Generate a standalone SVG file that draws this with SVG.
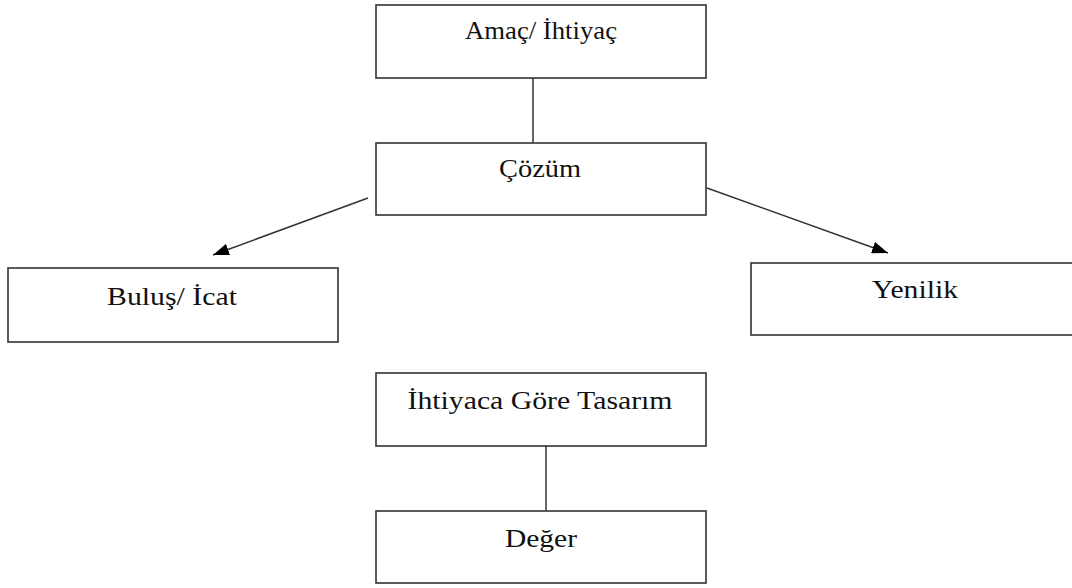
<svg xmlns="http://www.w3.org/2000/svg" width="1072" height="588" viewBox="0 0 1072 588">
  <style>
    .box { fill: #ffffff; stroke: #333333; stroke-width: 1.6; }
    .lbl { font-family: "Liberation Serif", "Times New Roman", serif; font-size: 25px; fill: #111111; text-anchor: middle; }
    .link { stroke: #333333; stroke-width: 1.5; fill: none; }
  </style>
  <defs>
    <marker id="arrow" viewBox="0 0 16 12" refX="16" refY="6" markerWidth="16" markerHeight="12" markerUnits="userSpaceOnUse" orient="auto">
      <path d="M0,0 L16,6 L0,12 z" fill="#000000"/>
    </marker>
  </defs>
  <rect width="1072" height="588" fill="#ffffff"/>

  <g id="connectors">
    <line class="link" x1="533" y1="78" x2="533" y2="143"/>
    <line class="link" x1="546" y1="446" x2="546" y2="511"/>
    <line class="link" x1="368" y1="198" x2="213" y2="255" marker-end="url(#arrow)"/>
    <line class="link" x1="707" y1="188" x2="888" y2="253" marker-end="url(#arrow)"/>
  </g>

  <g id="amac">
    <rect class="box" x="376" y="5" width="330" height="73"/>
    <text class="lbl" x="541" y="39" textLength="152" lengthAdjust="spacingAndGlyphs">Amaç/ İhtiyaç</text>
  </g>
  <g id="cozum">
    <rect class="box" x="376" y="143" width="330" height="72"/>
    <text class="lbl" x="540" y="177" textLength="82" lengthAdjust="spacingAndGlyphs">Çözüm</text>
  </g>
  <g id="bulus">
    <rect class="box" x="8" y="268" width="330" height="74"/>
    <text class="lbl" x="172" y="305" textLength="130" lengthAdjust="spacingAndGlyphs">Buluş/ İcat</text>
  </g>
  <g id="yenilik">
    <rect class="box" x="751" y="263" width="340" height="72"/>
    <text class="lbl" x="915" y="298" textLength="86" lengthAdjust="spacingAndGlyphs">Yenilik</text>
  </g>
  <g id="tasarim">
    <rect class="box" x="376" y="373" width="330" height="73"/>
    <text class="lbl" x="540" y="409" textLength="265" lengthAdjust="spacingAndGlyphs">İhtiyaca Göre Tasarım</text>
  </g>
  <g id="deger">
    <rect class="box" x="376" y="511" width="330" height="72"/>
    <text class="lbl" x="541" y="547" textLength="72" lengthAdjust="spacingAndGlyphs">Değer</text>
  </g>
</svg>
